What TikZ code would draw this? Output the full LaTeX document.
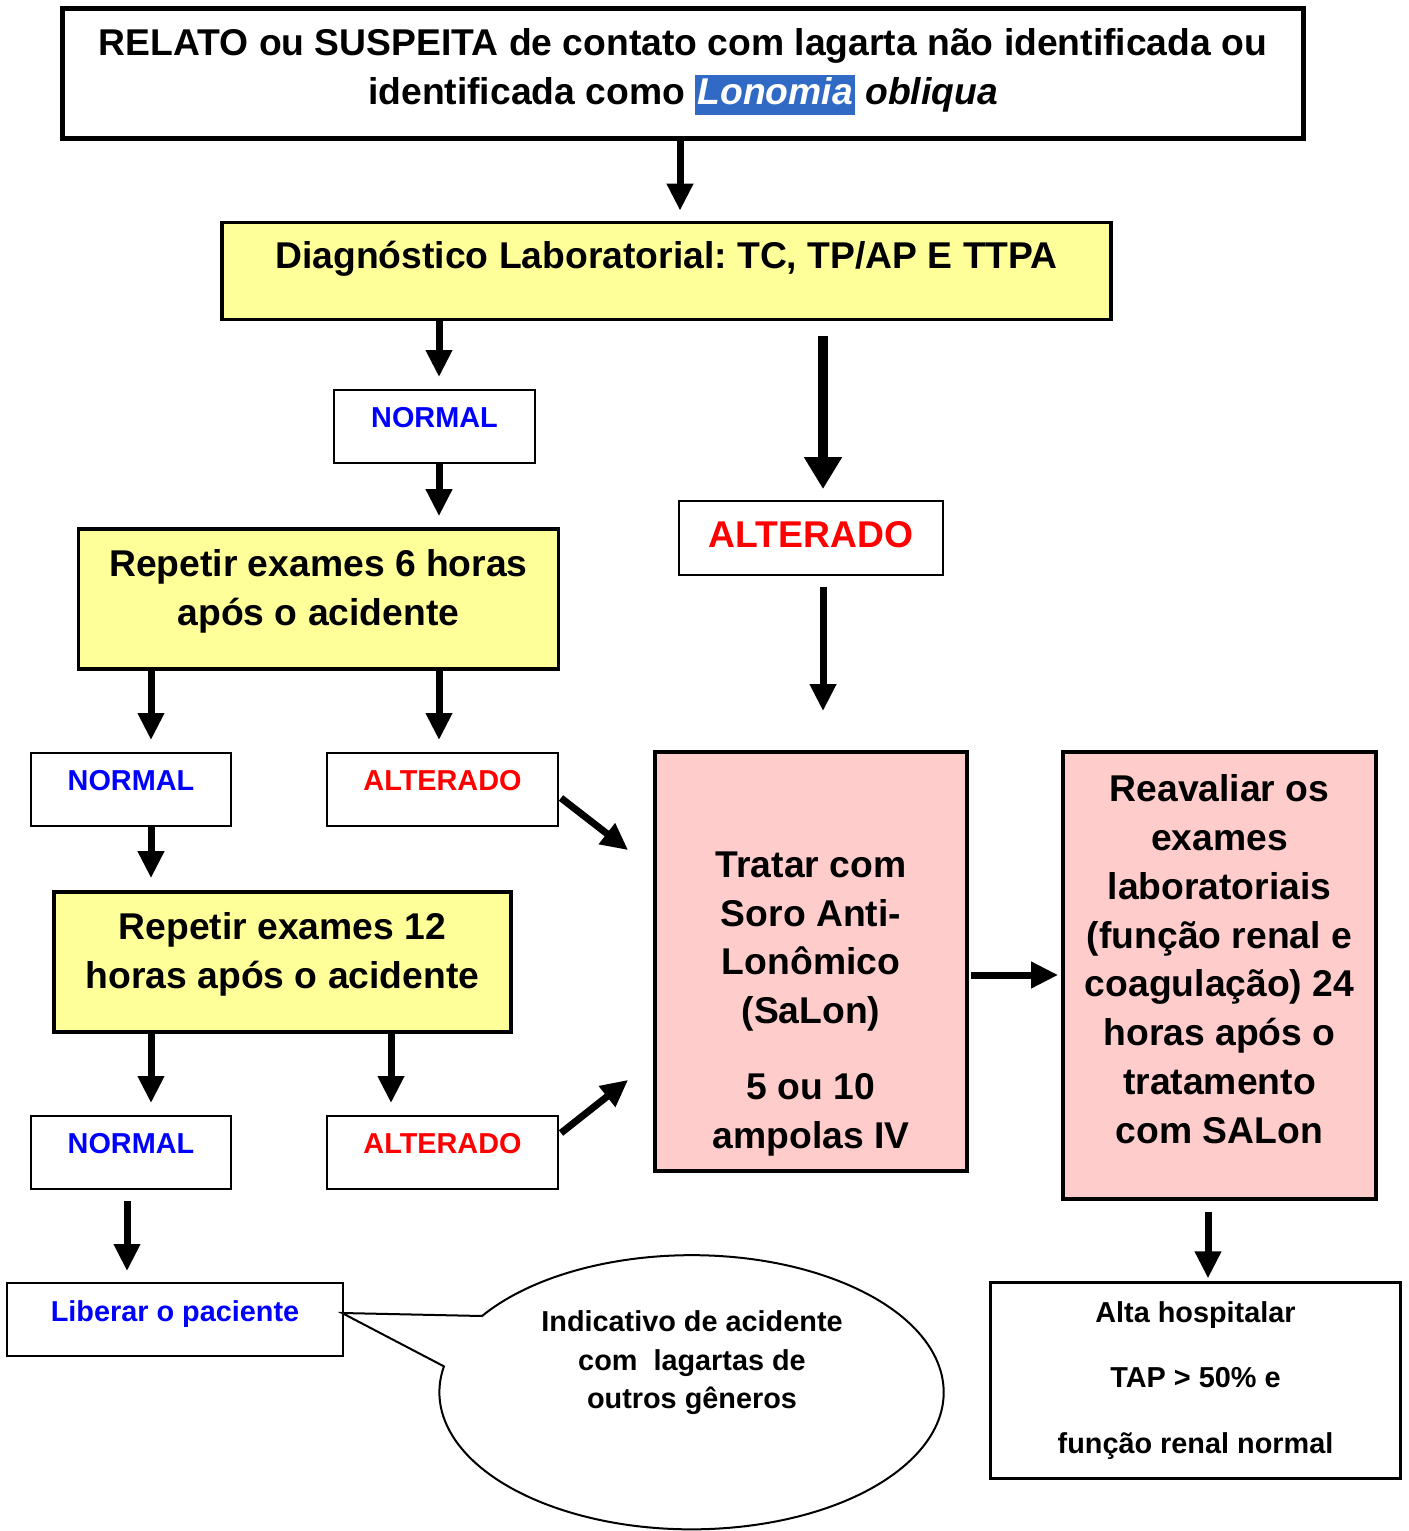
\documentclass[tikz,border=0pt]{standalone}
\usepackage{fontspec}
\setmainfont{Liberation Sans}
\usepackage{xcolor}
\usetikzlibrary{arrows.meta,positioning,calc}

\definecolor{amarelo}{HTML}{FFFF99}
\definecolor{rosa}{HTML}{FFCCCC}
\definecolor{azul}{HTML}{0000FF}
\definecolor{vermelho}{HTML}{FF0000}
\definecolor{realce}{HTML}{316AC5}

\newcommand{\realcado}[1]{{\setlength{\fboxsep}{0.6pt}\colorbox{realce}{\rule[-0.24em]{0pt}{0.94em}\color{white}\itshape #1}}}
\frenchspacing

\begin{document}
\begin{tikzpicture}[
    x=0.01cm, y=-0.01cm,
    box/.style={rectangle, draw, inner sep=0pt, align=center},
    bigtext/.style={font=\fontsize{10.6}{13.9}\selectfont\bfseries},
    smalltext/.style={font=\fontsize{8.2}{11}\selectfont\bfseries},
    yellowbox/.style={box, fill=amarelo, line width=0.035cm, bigtext},
    pinkbox/.style={box, fill=rosa, line width=0.035cm, bigtext},
    tag/.style={box, line width=0.018cm, smalltext, text depth=0.19cm},
    arrow/.style={-{Triangle[width=0.25cm,length=0.27cm]}, line width=0.07cm},
    bigarrow/.style={-{Triangle[width=0.36cm,length=0.32cm]}, line width=0.1cm}
]
    \useasboundingbox (0,0) rectangle (1408,1531);

    \node[box, line width=0.05cm, bigtext, minimum width=12.40cm, minimum height=1.29cm, text depth=0.14cm] (relato) at (683,73.5)
        {RELATO ou SUSPEITA de contato com lagarta não identificada ou\\identificada como \realcado{Lonomia} \itshape obliqua};
    \node[yellowbox, minimum width=8.88cm, minimum height=0.97cm, text depth=0.32cm] (diag) at (666.5,271)
        {Diagnóstico Laboratorial: TC, TP/AP E TTPA};

    \node[tag, text=azul, minimum width=2.01cm, minimum height=0.73cm] (normA) at (434.5,426.5) {NORMAL};
    \node[box, line width=0.018cm, bigtext, text=vermelho, minimum width=2.64cm, minimum height=0.74cm, text depth=0.08cm] (altA) at (811,538) {ALTERADO};

    \node[yellowbox, minimum width=4.80cm, minimum height=1.40cm, text depth=0.23cm] (rep6) at (318.5,599)
        {Repetir exames 6 horas\\após o acidente};
    \node[tag, text=azul, minimum width=2.00cm, minimum height=0.73cm] (normB) at (131,789.5) {NORMAL};
    \node[tag, text=vermelho, minimum width=2.31cm, minimum height=0.73cm] (altB) at (442.5,789.5) {ALTERADO};

    \node[yellowbox, minimum width=4.57cm, minimum height=1.40cm, text depth=0.23cm] (rep12) at (282.5,962)
        {Repetir exames 12\\horas após o acidente};
    \node[tag, text=azul, minimum width=2.00cm, minimum height=0.73cm] (normC) at (131,1152.5) {NORMAL};
    \node[tag, text=vermelho, minimum width=2.31cm, minimum height=0.73cm] (altC) at (442.5,1152.5) {ALTERADO};

    \node[tag, text=azul, minimum width=3.36cm, minimum height=0.73cm, text depth=0.17cm] (liberar) at (175,1319.5) {Liberar o paciente};

    \node[pinkbox, minimum width=3.12cm, minimum height=4.19cm, text height=3.74cm, text depth=0cm] (tratar) at (811,961.5)
        {Tratar com\\Soro Anti-\\Lonômico\\(SaLon)\\[0.27cm]5 ou 10\\ampolas IV};
    \node[pinkbox, minimum width=3.13cm, minimum height=4.47cm, text depth=0.33cm] (reav) at (1219.5,975.5)
        {Reavaliar os\\exames\\laboratoriais\\(função renal e\\coagulação) 24\\horas após o\\tratamento\\com SALon};
    \node[box, line width=0.03cm, font=\fontsize{8.2}{18.6}\selectfont\bfseries, minimum width=4.09cm, minimum height=1.95cm] (alta) at (1195.5,1380.5)
        {Alta hospitalar\\TAP > 50\% e\\função renal normal};

    \coordinate (bolha) at (691,1392);
    \draw[line width=0.02cm, fill=white] ($(bolha)+(-209,-76)$)
        arc[start angle=146.2, end angle=-190.9, x radius=2.52cm, y radius=1.37cm]
        -- ($(liberar.east)+(-2,-6.5)$) -- cycle;
    \node[align=center, font=\fontsize{8.2}{10.95}\selectfont\bfseries] (indicativo) at (692,1363)
        {Indicativo de acidente\\com\ \ lagartas de\\outros gêneros};

    \draw[arrow, shorten >=0.10cm] (relato.south -| 680,0) -- (diag.north -| 680,0);
    \draw[arrow, shorten >=0.12cm] (diag.south -| 439,0) -- (normA.north -| 439,0);
    \draw[arrow, shorten >=0.11cm] (normA.south -| 439,0) -- (rep6.north -| 439,0);
    \draw[bigarrow, shorten <=0.15cm, shorten >=0.11cm] (diag.south -| 823,0) -- (altA.north -| 823,0);
    \draw[arrow, shorten <=0.11cm, shorten >=0.39cm] (altA.south -| 823,0) -- (tratar.north -| 823,0);
    \draw[arrow, shorten >=0.12cm] (rep6.south -| 151,0) -- (normB.north -| 151,0);
    \draw[arrow, shorten >=0.12cm] (rep6.south -| 439,0) -- (altB.north -| 439,0);
    \draw[arrow, shorten >=0.12cm] (normB.south -| 151,0) -- (rep12.north -| 151,0);
    \draw[arrow, shorten >=0.12cm] (rep12.south -| 151,0) -- (normC.north -| 151,0);
    \draw[arrow, shorten >=0.12cm] (rep12.south -| 391,0) -- (altC.north -| 391,0);
    \draw[arrow, shorten <=0.11cm, shorten >=0.11cm] (normC.south -| 127,0) -- (liberar.north -| 127,0);
    \draw[arrow] ($(altB.east)+(2,8.5)$) -- ($(tratar.north west)+(-25,100)$);
    \draw[arrow] ($(altC.east)+(2,-19.5)$) -- ($(tratar.south west)+(-25,-93)$);
    \draw[arrow, shorten <=0.02cm, shorten >=0.03cm] (tratar.east |- 0,975) -- (reav.west |- 0,975);
    \draw[arrow, shorten <=0.11cm, shorten >=0.03cm] (reav.south -| 1208,0) -- (alta.north -| 1208,0);
\end{tikzpicture}
\end{document}
